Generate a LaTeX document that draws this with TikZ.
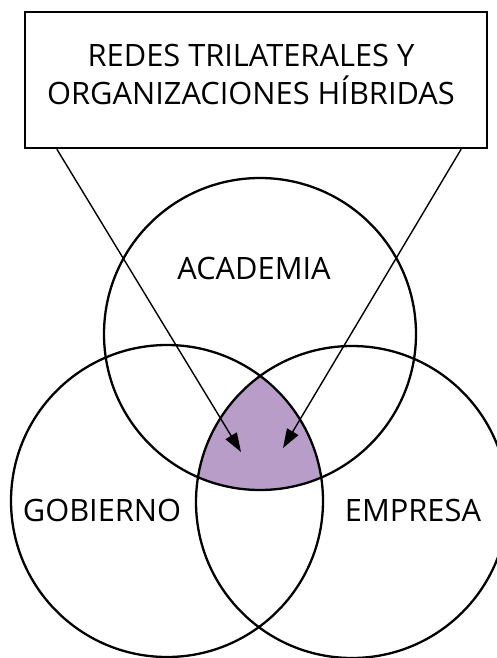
\documentclass[tikz,border=0pt]{standalone}
\usepackage{fontspec}
\setmainfont{Open Sans}
\usetikzlibrary{positioning}
\usetikzlibrary{arrows.meta}
\definecolor{hybridPurple}{RGB}{183,157,199}

\begin{document}
\begin{tikzpicture}[x=1pt, y=-1pt,
    sphere/.style={draw, shape=circle, line width=2.3pt, minimum size=312pt, inner sep=0pt},
    sphereLabel/.style={font=\fontsize{30.8}{38}\selectfont, inner sep=0pt},
    pointer/.style={line width=1.4pt, -{Triangle[length=19pt, width=13pt]}},
  ]
    \useasboundingbox (0,0) rectangle (497,658);

    \coordinate (academiaCentre) at (260,334);
    \coordinate (gobiernoCentre) at (167,501);
    \coordinate (empresaCentre) at (352,502);

    % shared region of the three circles
    \begin{scope}
      \clip (academiaCentre) circle[radius=156pt];
      \clip (gobiernoCentre) circle[radius=156pt];
      \fill[hybridPurple] (empresaCentre) circle[radius=156pt];
    \end{scope}

    \node[sphere] (academia) at (academiaCentre) {};
    \node[sphere] (gobierno) at (gobiernoCentre) {};
    \node[sphere] (empresa) at (empresaCentre) {};

    \node[sphereLabel, anchor=base] (academia_label) at (254,279) {ACADEMIA};
    \node[sphereLabel, anchor=base] (gobierno_label) at (102,521) {GOBIERNO};
    \node[sphereLabel, anchor=base] (empresa_label) at (413,521) {EMPRESA};

    \node[draw, line width=2.3pt, minimum width=462pt, minimum height=136pt, fill=white] (networks) at (256,80) {};
    \node[sphereLabel, align=center] (networks_label) at (251,74) {REDES TRILATERALES Y\\ORGANIZACIONES HÍBRIDAS};

    \path (networks.south west) ++(33,0) coordinate (leftStart);
    \path (networks.south east) ++(-27,0) coordinate (rightStart);
    \coordinate (leftTip) at (241,452);
    \coordinate (rightTip) at (283,448);

    \draw[pointer] (leftStart) -- (leftTip);
    \draw[pointer] (rightStart) -- (rightTip);
  \end{tikzpicture}
\end{document}
